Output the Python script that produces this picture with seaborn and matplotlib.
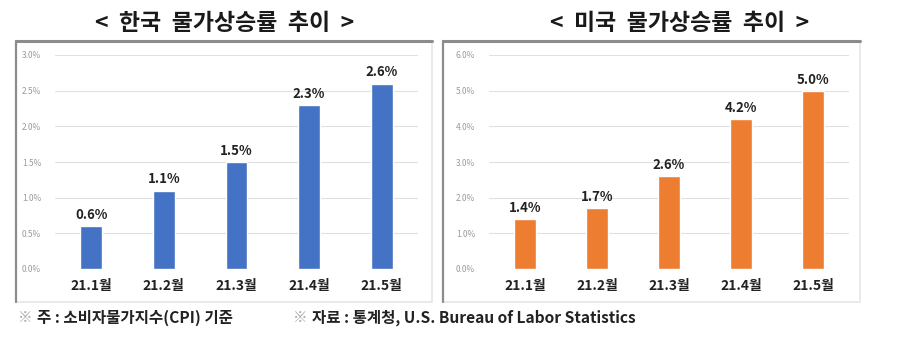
import matplotlib
matplotlib.use('Agg')
import matplotlib.pyplot as plt
import seaborn as sns
import pandas as pd
from matplotlib.ticker import MultipleLocator, FuncFormatter
from matplotlib.lines import Line2D

months = ['21.1월', '21.2월', '21.3월', '21.4월', '21.5월']
korea_cpi = [0.6, 1.1, 1.5, 2.3, 2.6]
us_cpi = [1.4, 1.7, 2.6, 4.2, 5.0]

titles = ['<  한국  물가상승률  추이  >', '<  미국  물가상승률  추이  >']
colors = ['#4472C4', '#ED7D31']
y_max = [3.0, 6.0]
y_step = [0.5, 1.0]
note_left = '주 : 소비자물가지수(CPI) 기준'
note_right = '자료 : 통계청, U.S. Bureau of Labor Statistics'

sns.set_theme(style='white')
plt.rcParams['font.family'] = ['Noto Sans CJK KR', 'DejaVu Sans']

W, H = 900, 355
fig = plt.figure(figsize=(9, 3.55), dpi=100)
fig.patch.set_facecolor('white')


def fx(px):
    return px / W


def fy(py):
    return 1 - py / H


# panel frames (pixel boxes)
frames = [(16, 41, 432, 302), (443, 41, 860, 302)]
for x0, y0, x1, y1 in frames:
    fig.add_artist(Line2D([fx(x1), fx(x1)], [fy(y0), fy(y1)], color='#e6e6e6', lw=1.2))
    fig.add_artist(Line2D([fx(x0), fx(x1)], [fy(y1), fy(y1)], color='#e6e6e6', lw=1.2))
    fig.add_artist(Line2D([fx(x0), fx(x0)], [fy(y0), fy(y1)], color='#8c8c8c', lw=1.6))
    fig.add_artist(Line2D([fx(x0), fx(x1)], [fy(y0), fy(y0)], color='#8c8c8c', lw=2.2))

axes_px = [(55, 418), (489, 849)]
title_x = [225, 680]
series = [korea_cpi, us_cpi]

for i in range(2):
    l, r = axes_px[i]
    ax = fig.add_axes([fx(l), fy(269), (r - l) / W, 214 / H])
    df = pd.DataFrame({'month': months, 'value': series[i]})
    sns.barplot(data=df, x='month', y='value', color=colors[i], width=0.3,
                saturation=1, ax=ax)
    ax.set_xlim(-0.5, 4.5)
    ax.set_ylim(0, y_max[i])
    ax.yaxis.set_major_locator(MultipleLocator(y_step[i]))
    ax.yaxis.set_major_formatter(FuncFormatter(lambda v, p: f'{v:.1f}%'))
    ax.grid(axis='y', color='#e0e0e0', lw=0.8)
    ax.set_axisbelow(True)
    for s in ax.spines.values():
        s.set_visible(False)
    ax.set_xlabel('')
    ax.set_ylabel('')
    ax.tick_params(axis='y', labelsize=6, labelcolor='#9a9a9a', length=0, pad=10)
    ax.tick_params(axis='x', labelsize=10, length=0, pad=7)
    for t in ax.get_xticklabels():
        t.set_fontweight('bold')
        t.set_color('#222222')
    for c in ax.containers:
        ax.bar_label(c, labels=[f'{v:.1f}%' for v in series[i]], padding=3,
                     fontsize=9.5, fontweight='bold', color='#222222')
    fig.text(fx(title_x[i]), fy(24), titles[i], ha='center', va='center',
             fontsize=16.5, fontweight='bold', color='#1a1a1a')

# footnotes with a light reference mark
for x, note in [(18, note_left), (293, note_right)]:
    fig.text(fx(x), fy(318), '※', ha='left', va='center', fontsize=10.5,
             color='#aaaaaa')
    fig.text(fx(x + 19), fy(318), note, ha='left', va='center', fontsize=11.2,
             fontweight='bold', color='#222222')

fig.savefig('out.png', dpi=100, facecolor='white')
